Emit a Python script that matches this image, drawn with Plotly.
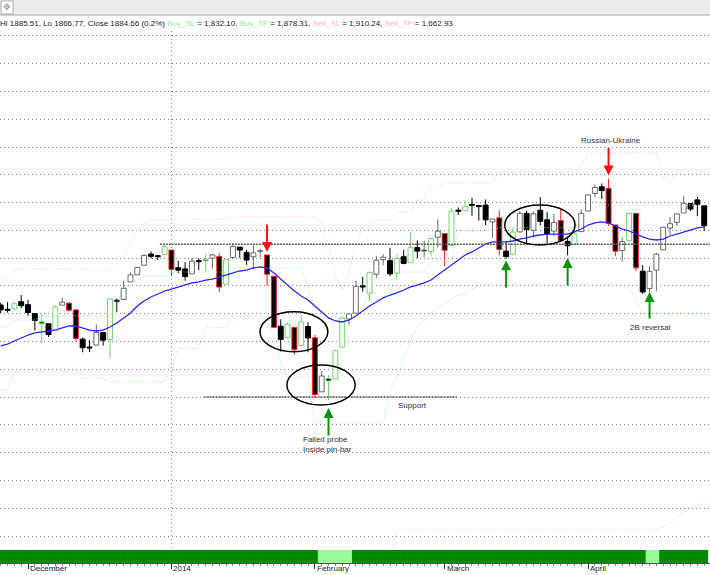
import plotly.graph_objects as go

# ---------------- data ----------------
dates = [
    "2013-11-25", "2013-11-26", "2013-11-27", "2013-11-29",
    "2013-12-02", "2013-12-03", "2013-12-04", "2013-12-05", "2013-12-06", "2013-12-09", "2013-12-10",
    "2013-12-11", "2013-12-12", "2013-12-13", "2013-12-16", "2013-12-17", "2013-12-18", "2013-12-19",
    "2013-12-20", "2013-12-23", "2013-12-24", "2013-12-26", "2013-12-27", "2013-12-30", "2013-12-31",
    "2014-01-02", "2014-01-03", "2014-01-06", "2014-01-07", "2014-01-08", "2014-01-09", "2014-01-10",
    "2014-01-13", "2014-01-14", "2014-01-15", "2014-01-16", "2014-01-17", "2014-01-21", "2014-01-22",
    "2014-01-23", "2014-01-24", "2014-01-27", "2014-01-28", "2014-01-29", "2014-01-30", "2014-01-31",
    "2014-02-03", "2014-02-04", "2014-02-05", "2014-02-06", "2014-02-07", "2014-02-10", "2014-02-11",
    "2014-02-12", "2014-02-13", "2014-02-14", "2014-02-18", "2014-02-19", "2014-02-20", "2014-02-21",
    "2014-02-24", "2014-02-25", "2014-02-26", "2014-02-27", "2014-02-28",
    "2014-03-03", "2014-03-04", "2014-03-05", "2014-03-06", "2014-03-07", "2014-03-10", "2014-03-11",
    "2014-03-12", "2014-03-13", "2014-03-14", "2014-03-17", "2014-03-18", "2014-03-19", "2014-03-20",
    "2014-03-21", "2014-03-24", "2014-03-25", "2014-03-26", "2014-03-27", "2014-03-28", "2014-03-31",
    "2014-04-01", "2014-04-02", "2014-04-03", "2014-04-04", "2014-04-07", "2014-04-08", "2014-04-09",
    "2014-04-10", "2014-04-11", "2014-04-14", "2014-04-15", "2014-04-16", "2014-04-17", "2014-04-21",
    "2014-04-22", "2014-04-23", "2014-04-24", "2014-04-25",
]

opens = [
    1806.33, 1802.87, 1803.48, 1808.69,
    1806.55, 1800.10, 1794.17, 1792.82, 1788.36, 1806.21, 1807.60, 1802.76, 1781.71, 1776.04, 1777.48,
    1786.47, 1781.46, 1809.00, 1810.39, 1822.92, 1828.02, 1834.96, 1842.97, 1841.47, 1842.61,
    1845.86, 1833.21, 1832.31, 1828.71, 1837.90, 1839.00, 1840.06, 1841.26, 1821.36, 1840.52, 1847.99,
    1844.23, 1841.05, 1844.71, 1842.29, 1826.96, 1791.03, 1783.00, 1790.15, 1777.17, 1790.88,
    1782.68, 1743.82, 1753.38, 1752.99, 1776.01, 1796.20, 1800.45, 1820.12, 1814.82, 1828.46, 1839.03,
    1838.22, 1829.24, 1841.07, 1836.78, 1847.66, 1845.79, 1844.90, 1855.12,
    1857.68, 1849.23, 1874.05, 1874.18, 1878.52, 1877.86, 1878.26, 1866.15, 1869.06, 1845.07, 1842.81,
    1858.92, 1872.25, 1860.09, 1874.53, 1867.67, 1859.48, 1867.09, 1852.11, 1850.07, 1859.16,
    1873.96, 1886.61, 1891.43, 1890.25, 1863.92, 1845.48, 1852.64, 1872.28, 1830.65, 1818.18, 1831.45,
    1846.01, 1861.73, 1865.79, 1872.57, 1879.32, 1881.97, 1877.72,
]

highs = [
    1808.10, 1808.42, 1808.27, 1813.55,
    1810.02, 1800.10, 1799.80, 1792.82, 1806.04, 1811.52, 1808.52, 1802.97, 1782.99, 1780.92, 1792.22,
    1786.77, 1811.08, 1810.88, 1823.75, 1829.75, 1833.32, 1842.84, 1844.89, 1842.47, 1849.44,
    1845.86, 1838.24, 1837.16, 1840.10, 1840.02, 1843.23, 1843.15, 1843.45, 1839.26, 1850.84, 1847.99,
    1846.04, 1849.31, 1846.87, 1842.29, 1826.96, 1795.98, 1793.87, 1790.15, 1798.77, 1793.88,
    1784.83, 1758.73, 1755.79, 1774.06, 1798.03, 1799.94, 1823.54, 1826.55, 1830.25, 1841.65, 1842.87,
    1847.50, 1842.79, 1846.13, 1858.71, 1852.91, 1852.65, 1854.53, 1867.92,
    1857.68, 1876.23, 1876.53, 1881.94, 1883.57, 1877.87, 1882.35, 1868.38, 1874.40, 1852.44, 1862.30,
    1873.76, 1874.14, 1873.49, 1883.97, 1873.34, 1871.87, 1875.92, 1855.55, 1866.63, 1875.18,
    1885.84, 1893.17, 1893.80, 1897.28, 1864.04, 1854.95, 1872.43, 1872.53, 1835.07, 1834.19, 1844.02,
    1862.31, 1869.63, 1871.89, 1884.89, 1879.75, 1884.06, 1877.72,
]

lows = [
    1800.58, 1800.77, 1802.77, 1803.98,
    1798.60, 1787.85, 1779.09, 1783.38, 1788.36, 1806.21, 1801.75, 1780.09, 1772.28, 1772.45, 1777.48,
    1777.05, 1767.99, 1801.35, 1810.25, 1822.92, 1828.02, 1834.96, 1839.81, 1838.77, 1842.41,
    1827.74, 1829.13, 1823.73, 1828.71, 1831.40, 1830.38, 1832.43, 1815.52, 1821.36, 1840.52, 1840.30,
    1835.23, 1832.38, 1840.88, 1820.06, 1790.29, 1772.88, 1783.00, 1770.45, 1777.17, 1772.26,
    1739.66, 1743.82, 1737.92, 1752.99, 1776.01, 1791.83, 1800.41, 1815.97, 1809.22, 1825.59, 1835.01,
    1826.99, 1824.58, 1835.60, 1836.78, 1840.19, 1840.66, 1841.13, 1847.67,
    1834.44, 1849.23, 1871.11, 1874.18, 1870.56, 1867.04, 1863.88, 1854.38, 1841.86, 1839.57, 1842.81,
    1858.92, 1850.35, 1854.63, 1863.46, 1849.69, 1855.96, 1852.56, 1842.11, 1850.07, 1859.16,
    1873.96, 1883.79, 1882.65, 1863.26, 1841.48, 1837.49, 1852.38, 1830.87, 1814.36, 1815.80, 1816.29,
    1846.01, 1856.72, 1863.18, 1872.57, 1873.91, 1870.24, 1859.70,
]

closes = [
    1802.75, 1802.48, 1807.23, 1805.81,
    1800.90, 1795.15, 1792.81, 1785.03, 1805.09, 1808.37, 1802.62, 1782.22, 1775.50, 1775.32, 1786.54,
    1781.00, 1810.65, 1809.60, 1818.32, 1827.99, 1833.32, 1842.02, 1841.40, 1841.07, 1848.36,
    1831.98, 1831.37, 1826.77, 1837.88, 1837.49, 1838.13, 1842.37, 1819.20, 1838.88, 1848.38, 1845.89,
    1838.70, 1843.80, 1844.86, 1828.46, 1790.29, 1781.56, 1792.50, 1774.20, 1794.19, 1782.59,
    1741.89, 1755.20, 1751.64, 1773.43, 1797.02, 1799.84, 1819.75, 1819.26, 1829.83, 1838.63, 1840.76,
    1828.75, 1839.78, 1836.25, 1847.61, 1845.12, 1845.16, 1854.29, 1859.45,
    1845.73, 1873.91, 1873.81, 1877.03, 1878.04, 1877.17, 1867.63, 1868.20, 1846.34, 1841.13, 1858.83,
    1872.25, 1860.77, 1872.01, 1866.52, 1857.44, 1865.62, 1852.56, 1849.04, 1857.62, 1872.34,
    1885.52, 1890.90, 1888.77, 1865.09, 1845.04, 1851.96, 1872.18, 1833.08, 1815.69, 1830.61, 1842.98,
    1862.31, 1864.85, 1871.89, 1879.55, 1875.39, 1878.61, 1863.40,
]

# candle outline: r = red, g = green, k = black, w = grey
outline = [
    "k", "k", "g", "k",
    "k", "k", "g", "k", "g", "w", "r", "r", "k", "k", "w", "k", "g", "k", "w", "w", "w", "w", "k", "k", "g",
    "r", "k", "k", "w", "k", "g", "w", "r", "g", "w", "k", "k", "w", "w", "r", "r", "k", "g", "r", "g", "k",
    "r", "w", "g", "g", "g", "w", "w", "k", "g", "w", "w", "k", "g", "k", "g", "k", "w", "g", "w",
    "r", "g", "k", "g", "k", "k", "k", "w", "r", "k", "g", "w", "k", "w", "k", "k", "w", "r", "k", "g", "w",
    "w", "w", "k", "r", "r", "w", "g", "r", "k", "w", "w", "w", "w", "w", "w", "k", "k", "k",
]

ema = [
    1776.8, 1778.2, 1780.4, 1782.6, 1784.7, 1786.2, 1786.9, 1787.2, 1788.3, 1789.8,
    1791.2, 1791.2, 1789.8, 1788.3, 1787.6, 1788.3, 1790.5, 1793.4, 1797.0, 1800.6,
    1805.6, 1809.2, 1812.1, 1814.2, 1816.4, 1817.8, 1819.3, 1820.7, 1822.2, 1822.9,
    1824.3, 1825.0, 1826.5, 1827.9, 1829.4, 1830.8, 1831.5, 1833.0, 1833.7, 1833.0,
    1829.4, 1825.0, 1820.7, 1816.4, 1812.8, 1809.9, 1805.6, 1801.3, 1797.0, 1794.8,
    1794.1, 1795.5, 1798.4, 1802.0, 1805.6, 1808.5, 1811.4, 1813.5, 1815.0, 1817.1,
    1819.3, 1820.7, 1822.2, 1824.3, 1827.9, 1831.5, 1835.1, 1838.7, 1842.3, 1844.5,
    1847.4, 1850.2, 1851.7, 1851.7, 1851.7, 1852.4, 1853.8, 1854.6, 1856.0, 1856.7,
    1857.4, 1857.4, 1857.4, 1857.4, 1858.9, 1861.0, 1863.9, 1865.4, 1866.1, 1865.4,
    1863.2, 1861.0, 1859.6, 1857.4, 1855.3, 1853.8, 1853.1, 1853.8, 1856.0, 1857.4,
    1858.9, 1860.3, 1861.8, 1862.5,
]

sell_sl = [
    1825.8, 1825.8, 1832.2, 1832.2, 1832.2, 1832.2, 1832.2, 1832.2, 1832.2, 1832.2,
    1832.2, 1832.2, 1832.2, 1831.5, 1831.5, 1831.5, 1831.5, 1834.4, 1841.6, 1853.1,
    1861.0, 1864.6, 1867.5, 1867.5, 1867.5, 1868.2, 1868.2, 1868.2, 1868.2, 1868.2,
    1868.2, 1868.2, 1868.2, 1868.2, 1869.7, 1869.7, 1869.7, 1869.7, 1869.7, 1869.7,
    1869.7, 1869.7, 1869.7, 1869.7, 1869.7, 1869.7, 1869.7, 1866.1, 1849.5, 1827.9,
    1817.1, 1831.5, 1849.5, 1861.8, 1864.6, 1867.5, 1867.5, 1867.5, 1873.3, 1873.3,
    1873.3, 1881.9, 1881.9, 1891.3, 1891.3, 1894.2, 1894.2, 1894.2, 1894.2, 1894.2,
    1894.2, 1894.2, 1894.2, 1902.1, 1902.1, 1902.1, 1902.1, 1902.1, 1902.1, 1902.1,
    1902.1, 1902.1, 1902.1, 1902.1, 1902.1, 1907.1, 1915.8, 1915.8, 1915.8, 1915.8,
    1915.8, 1915.8, 1915.8, 1915.8, 1915.8, 1915.8, 1915.8, 1898.5, 1894.2, 1903.5,
    1903.5, 1903.5, 1903.5, 1903.5,
]

buy_tp = [
    1790.5, 1790.5, 1795.5, 1795.5, 1795.5, 1795.5, 1798.4, 1798.4, 1798.4, 1798.4,
    1798.4, 1798.4, 1798.4, 1798.4, 1798.4, 1798.4, 1798.4, 1806.3, 1813.5, 1819.3,
    1824.3, 1827.2, 1827.2, 1827.2, 1827.2, 1830.1, 1830.1, 1830.1, 1830.1, 1830.1,
    1830.1, 1830.1, 1830.1, 1830.1, 1833.0, 1833.0, 1833.0, 1833.0, 1833.0, 1833.0,
    1833.0, 1833.0, 1833.0, 1833.0, 1833.0, 1818.0, 1805.0, 1800.0, 1797.0, 1797.0,
    1797.0, 1800.0, 1800.0, 1805.0, 1815.0, 1815.0, 1815.0, 1815.0, 1830.0, 1830.0,
    1830.0, 1830.0, 1830.0, 1838.0, 1838.0, 1838.0, 1838.0, 1860.0, 1860.0, 1860.0,
    1860.0, 1860.0, 1860.0, 1862.0, 1862.0, 1862.0, 1862.0, 1862.0, 1862.0, 1862.0,
    1862.0, 1862.0, 1862.0, 1862.0, 1862.0, 1867.5, 1872.6, 1876.2, 1878.3, 1878.3,
    1878.3, 1878.3, 1878.3, 1878.3, 1878.3, 1878.3, 1878.3, 1878.3, 1878.3, 1878.3,
    1878.3, 1878.3, 1878.3, 1878.3,
]

buy_sl = [
    1745.0, 1745.0, 1758.1, 1758.1, 1758.8, 1758.8, 1758.8, 1758.8, 1758.8, 1758.8,
    1758.8, 1758.8, 1753.8, 1753.8, 1753.8, 1753.8, 1750.9, 1750.9, 1750.9, 1750.9,
    1750.9, 1750.9, 1750.9, 1750.9, 1750.9, 1760.0, 1775.0, 1775.0, 1775.0, 1775.0,
    1790.0, 1790.0, 1790.0, 1790.0, 1797.7, 1797.7, 1797.7, 1797.7, 1797.7, 1797.7,
    1783.3, 1764.6, 1754.5, 1754.5, 1754.5, 1754.5, 1721.3, 1721.3, 1721.3, 1721.3,
    1721.3, 1721.3, 1721.3, 1721.3, 1721.3, 1721.3, 1721.3, 1745.1, 1755.0, 1766.6,
    1781.1, 1790.5, 1796.0, 1800.6, 1804.0, 1807.8, 1811.0, 1813.5, 1815.0, 1818.0,
    1820.7, 1820.7, 1820.7, 1820.7, 1820.7, 1820.7, 1820.7, 1820.7, 1820.7, 1820.7,
    1820.7, 1820.7, 1820.7, 1820.7, 1820.7, 1820.7, 1820.7, 1820.7, 1820.7, 1820.7,
    1820.7, 1820.7, 1818.0, 1810.0, 1800.6, 1800.6, 1800.6, 1800.6, 1800.6, 1800.6,
    1800.6, 1800.6, 1800.6, 1800.6,
]

sell_tp = [
    None, None, None, None, None, None, None, None, None, None,
    None, None, None, None, None, None, None, None, None, None,
    None, None, None, None, None, None, None, None, None, None,
    None, None, None, None, None, None, None, None, None, None,
    None, None, None, None, None, None, None, None, None, None,
    None, None, None, None, None, None, None, 1625.0, 1644.3, 1644.3,
    1644.3, 1644.3, 1644.3, 1644.3, 1644.3, 1644.3, 1644.3, 1644.3, 1644.3, 1644.3,
    1644.3, 1644.3, 1644.3, 1644.3, 1644.3, 1644.3, 1644.3, 1644.3, 1644.3, 1644.3,
    1644.3, 1644.3, 1644.3, 1644.3, 1644.3, 1644.3, 1644.3, 1644.3, 1644.3, 1644.3,
    1644.3, 1644.3, 1644.3, 1644.3, 1644.3, 1644.3, 1644.3, 1646.5, 1650.0, 1654.0,
    1657.0, 1660.0, 1662.0, 1663.0,
]

# trend ribbon: 1 = strong (dark green), 0 = weak (pale green)
trend = [
    1, 1, 1, 1, 1, 1, 1, 1, 1, 1, 1, 1, 1, 1, 1, 1, 1, 1, 1, 1, 1, 1, 1, 1, 1,
    1, 1, 1, 1, 1, 1, 1, 1, 1, 1, 1, 1, 1, 1, 1, 1, 1, 1, 1, 1, 1,
    1, 0, 0, 0, 0, 0, 1, 1, 1, 1, 1, 1, 1, 1, 1, 1, 1, 1, 1,
    1, 1, 1, 1, 1, 1, 1, 1, 1, 1, 1, 1, 1, 1, 1, 1, 1, 1, 1, 1, 1,
    1, 1, 1, 1, 1, 1, 1, 1, 1, 0, 0, 1, 1, 1, 1, 1, 1, 1,
]

month_labels = ["December", "2014", "February", "March", "April"]
support_level = 1740.0
resistance_level = 1850.0
header_values = {"Hi": "1885.51", "Lo": "1866.77", "Close": "1884.66", "Chg": "0.2%",
                 "Buy_SL": "1,832.10", "Buy_TP": "1,878.31", "Sell_SL": "1,910.24", "Sell_TP": "1,662.93"}

# ---------------- figure ----------------
n = len(dates)
xs = list(range(n))
month_starts = [i for i in range(1, n) if dates[i][5:7] != dates[i - 1][5:7]]
year_start = next(i for i in xs if dates[i].startswith("2014"))

FONT = "Liberation Sans, Arial, sans-serif"
OUTLINE = {"r": "#ff1c1c", "g": "#72d672", "k": "#000000", "w": "#6a6a6a"}
LIGHT_GREEN = "#9be89b"
PINK = "#ffb8c6"

body_lo = [min(o, c) for o, c in zip(opens, closes)]
body_hi = [max(o, c) for o, c in zip(opens, closes)]
body_len = [max(h - l, 0.75) for h, l in zip(body_hi, body_lo)]
body_fill = ["#000000" if c < o else "#ffffff" for o, c in zip(opens, closes)]
body_line = [OUTLINE[e] for e in outline]
ribbon_col = ["#008a00" if t else "#98fb98" for t in trend]

fig = go.Figure()

# bottom trend ribbon
fig.add_trace(go.Bar(
    x=xs, y=[1 for _ in trend], width=1.0, yaxis="y2",
    marker=dict(color=ribbon_col, line=dict(width=1, color=ribbon_col)),
    hoverinfo="skip", showlegend=False,
))

# candle bodies
fig.add_trace(go.Bar(
    x=xs, y=body_len, base=body_lo, width=0.72,
    marker=dict(color=body_fill, line=dict(color=body_line, width=1)),
    hoverinfo="skip", showlegend=False,
))

# candle wicks, grouped by outline colour
for key, col in OUTLINE.items():
    wx, wy = [], []
    for i in xs:
        if outline[i] != key:
            continue
        wx += [i, i, None, i, i, None]
        wy += [highs[i], body_hi[i], None, body_lo[i], lows[i], None]
    fig.add_trace(go.Scatter(x=wx, y=wy, mode="lines", line=dict(color=col, width=1),
                             hoverinfo="skip", showlegend=False, connectgaps=False))

# stop / target bands
for series, col in [(sell_sl, PINK), (sell_tp, PINK), (buy_tp, LIGHT_GREEN), (buy_sl, LIGHT_GREEN)]:
    fig.add_trace(go.Scatter(x=xs, y=series, mode="lines", line=dict(color=col, width=1, dash="1px,2px"),
                             hoverinfo="skip", showlegend=False, connectgaps=False))

# moving average
fig.add_trace(go.Scatter(x=xs, y=ema, mode="lines", line=dict(color="#2828ff", width=1.3),
                         hoverinfo="skip", showlegend=False))

shapes = []
# year separator
shapes.append(dict(type="line", xref="x", yref="paper", x0=year_start, x1=year_start, y0=0.0281, y1=1,
                   line=dict(color="#808080", width=1, dash="1px,3px"), layer="below"))
# resistance and support
shapes.append(dict(type="line", xref="x", yref="y", x0=23.3, x1=103.85, y0=resistance_level, y1=resistance_level,
                   line=dict(color="#5a5a5a", width=1.5, dash="2px,1px")))
shapes.append(dict(type="line", xref="x", yref="y", x0=29.7, x1=66.8, y0=support_level, y1=support_level,
                   line=dict(color="#5a5a5a", width=1.5, dash="2px,1px")))
# highlighted clusters
for x0, x1, y0, y1 in [(37.96, 47.9, 1772.6, 1801.4), (41.9, 51.9, 1734.3, 1763.1), (73.8, 84.1, 1849.5, 1878.3)]:
    shapes.append(dict(type="circle", xref="x", yref="y", x0=x0, x1=x1, y0=y0, y1=y1,
                       line=dict(color="#000000", width=1.5)))
# toolbar strip
shapes.append(dict(type="rect", xref="paper", yref="paper", x0=0, x1=1, y0=1.0281, y1=1.0563,
                   fillcolor="#ececec", line=dict(width=0), layer="below"))
shapes.append(dict(type="line", xref="paper", yref="paper", x0=0, x1=1, y0=1.0281, y1=1.0281,
                   line=dict(color="#a8a8a8", width=1)))
shapes.append(dict(type="rect", xref="paper", yref="paper", x0=0.0015, x1=0.0185, y0=1.0300, y1=1.0545,
                   fillcolor="#ffffff", line=dict(color="#b0b0b0", width=1)))

annotations = []
hv = header_values
header = (f"Hi {hv['Hi']}, Lo {hv['Lo']}, Close {hv['Close']} ({hv['Chg']}) "
          f"<span style='color:{LIGHT_GREEN}'>Buy_SL</span> = {hv['Buy_SL']}, "
          f"<span style='color:{LIGHT_GREEN}'>Buy_TP</span> = {hv['Buy_TP']}, "
          f"<span style='color:{PINK}'>Sell_SL</span> = {hv['Sell_SL']}, "
          f"<span style='color:{PINK}'>Sell_TP</span> = {hv['Sell_TP']}")
annotations.append(dict(text=header, xref="paper", yref="paper", x=0, y=1.0131, xanchor="left",
                        yanchor="middle", showarrow=False, xshift=-2,
                        font=dict(family=FONT, size=8, color="#222222")))
annotations.append(dict(text="✥", xref="paper", yref="paper", x=0.0100, y=1.0423, xanchor="center",
                        yanchor="middle", showarrow=False, font=dict(family="DejaVu Sans", size=9, color="#a0a0a0")))

# month labels
for idx, lab in zip(month_starts, month_labels):
    annotations.append(dict(text=lab, xref="x", yref="paper", x=idx, y=-0.0094, xanchor="left",
                            yanchor="middle", showarrow=False, xshift=0,
                            font=dict(family=FONT, size=8, color="#222222")))

# event arrows
arrow_marks = [("2014-01-23", 1844.5, -29, "#ff1010"), ("2014-04-04", 1899.5, -29, "#ff1010"),
               ("2014-02-05", 1732.2, 29, "#109010"), ("2014-03-14", 1838.5, 29, "#109010"),
               ("2014-03-27", 1840.2, 29, "#109010"), ("2014-04-14", 1815.7, 28, "#109010")]
for d, yv, ay, col in arrow_marks:
    annotations.append(dict(text="", x=dates.index(d), y=yv, xref="x", yref="y", ax=0, ay=ay,
                            showarrow=True, arrowhead=2, arrowsize=1, arrowwidth=2, arrowcolor=col,
                            standoff=0))

# notes
notes = [("Russian-Ukraine", 89.35, 1924.4, "center"), ("Support", 57.9, 1734.3, "left"),
         ("Failed probe<br>Inside pin-bar", 43.97, 1705.7, "left"), ("2B reversal", 91.85, 1789.8, "left")]
for txt, xv, yv, anc in notes:
    annotations.append(dict(text=txt, x=xv, y=yv, xref="x", yref="y", xanchor=anc, yanchor="middle",
                            align="left", showarrow=False, font=dict(family=FONT, size=8, color="#333333")))

fig.update_layout(
    width=710, height=575,
    margin=dict(l=0, r=0, t=30, b=12),
    paper_bgcolor="#ffffff", plot_bgcolor="#ffffff",
    showlegend=False, barmode="overlay",
    xaxis=dict(range=[-0.1025, 103.85], anchor="y2", showgrid=False, zeroline=False,
               tickmode="array", tickvals=month_starts, ticks="outside", ticklen=5, tickwidth=1,
               tickcolor="#333333", showticklabels=False, showline=True, linecolor="#555555", linewidth=1,
               minor=dict(tickmode="array", tickvals=xs, ticks="outside", ticklen=2, tickcolor="#888888")),
    yaxis=dict(domain=[0.0281, 1], range=[1631.35, 2004.3], tickmode="array",
               tickvals=list(range(1640, 2001, 20)), showticklabels=False, showgrid=True,
               gridcolor="#808080", griddash="1px,3px", gridwidth=1, zeroline=False),
    yaxis2=dict(domain=[0, 0.0244], range=[0, 1], visible=False),
    shapes=shapes, annotations=annotations,
)

fig.write_html("out.html")
